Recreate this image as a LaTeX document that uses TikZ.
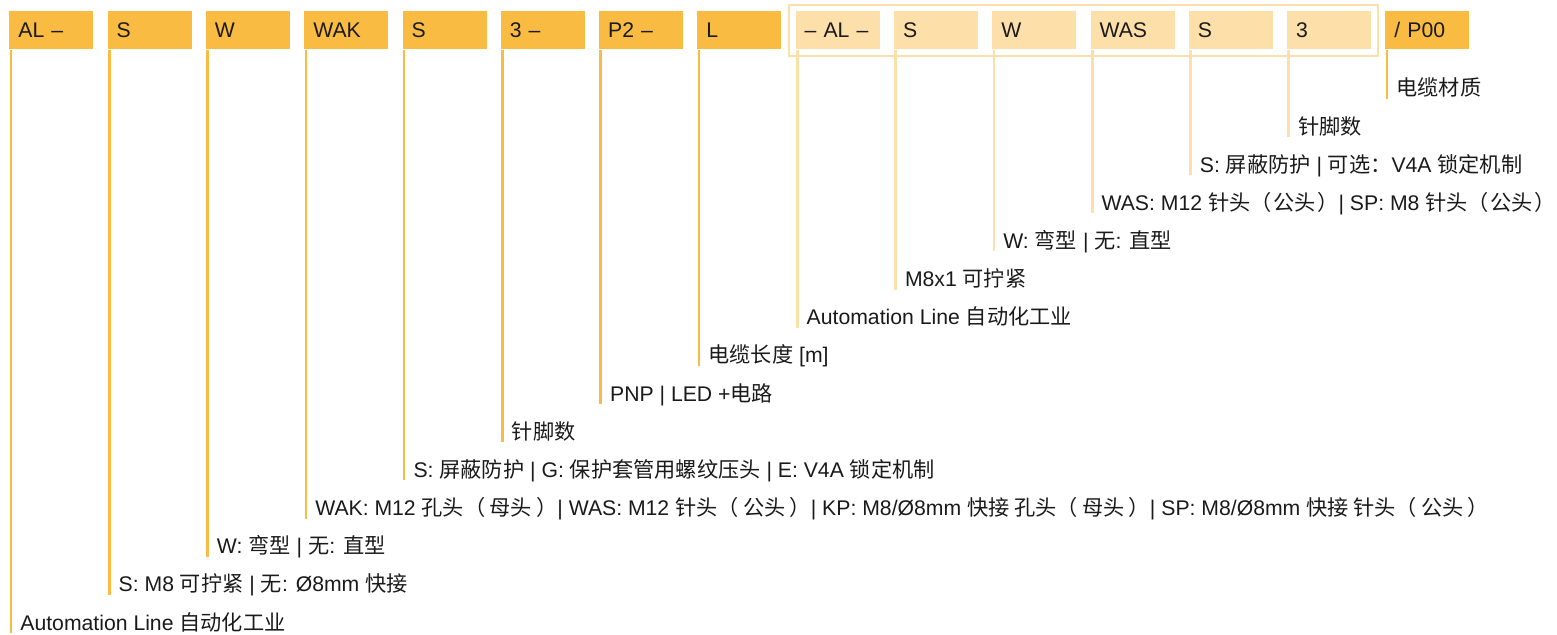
\documentclass[tikz,border=0pt]{standalone}
\usepackage{fontspec}
\setmainfont{Liberation Sans}
\newfontfamily\cjk{Noto Sans CJK SC}
\usetikzlibrary{fit}
\usetikzlibrary{positioning}

\definecolor{codeorange}{HTML}{F9BB42}
\definecolor{codelight}{HTML}{FDDFA9}
\definecolor{codetext}{HTML}{1A1A1A}

\newcommand{\zh}[1]{{\cjk #1}}
\newcommand{\gap}{\hspace{0.2em}}
\newcommand{\smallgap}{\hspace{0.08em}}

\begin{document}
\begin{tikzpicture}[x=0.5pt,y=-0.5pt,
  every node/.style={inner sep=0pt, text=codetext, font=\fontsize{10.6}{12}\selectfont},
  codebox/.style={fill=#1, anchor=north west, minimum height=19pt,
    text width=33pt, inner xsep=4.5pt, align=left, text height=7.6pt, text depth=0pt},
  legend/.style={anchor=base west},
  cable/.style={draw=#1, line width=1.3pt}]

  \useasboundingbox (0,0) rectangle (1557,635);

  % code boxes
  \foreach \code [count=\n from 0] in {AL –, S, W, WAK, S, 3 –, P2 –, L}
    \node[codebox=codeorange] (b\n) at ({9+98.29*\n},11) {\code};
  \foreach \code [count=\n from 8] in {– AL –, S, W, WAS, S, 3}
    \node[codebox=codelight] (b\n) at ({9+98.29*\n},11) {\code};
  \node[codebox=codeorange] (b14) at ({9+98.29*14},11) {/ P00};

  \node[fit=(b8)(b13), draw=codelight, line width=1pt, inner sep=3.2pt] (conn) {};

  % legend texts
  \node[legend] (l0) at (20,630) {Automation Line \zh{自动化工业}};
  \node[legend] (l1) at ({20+98.29*1},{630-38.15*1}) {S: M8 \zh{可拧紧} | \zh{无}: Ø8mm \zh{快接}};
  \node[legend] (l2) at ({20+98.29*2},{630-38.15*2}) {W: \zh{弯型} | \zh{无}: \zh{直型}};
  \node[legend] (l3) at ({20+98.29*3},{630-38.15*3}) {WAK: M12 \zh{孔头（\gap 母头\gap ）}| WAS: M12 \zh{针头（\gap 公头\gap ）}| KP: M8/Ø8mm \zh{快接 孔头（\gap 母头\gap ）}| SP: M8/Ø8mm \zh{快接 针头（\gap 公头\gap ）}};
  \node[legend] (l4) at ({20+98.29*4},{630-38.15*4}) {S: \zh{屏蔽防护} | G: \zh{保护套管用螺纹压头} | E: V4A \zh{锁定机制}};
  \node[legend] (l5) at ({20+98.29*5},{630-38.15*5}) {\zh{针脚数}};
  \node[legend] (l6) at ({20+98.29*6},{630-38.15*6}) {PNP | LED +\zh{电路}};
  \node[legend] (l7) at ({20+98.29*7},{630-38.15*7}) {\zh{电缆长度} [m]};
  \node[legend] (l8) at ({20+98.29*8},{630-38.15*8}) {Automation Line \zh{自动化工业}};
  \node[legend] (l9) at ({20+98.29*9},{630-38.15*9}) {M8x1 \zh{可拧紧}};
  \node[legend] (l10) at ({20+98.29*10},{630-38.15*10}) {W: \zh{弯型} | \zh{无}: \zh{直型}};
  \node[legend] (l11) at ({20+98.29*11},{630-38.15*11}) {WAS: M12 \zh{针头（\smallgap 公头\smallgap ）}| SP: M8 \zh{针头（\smallgap 公头\smallgap ）}};
  \node[legend] (l12) at ({20+98.29*12},{630-38.15*12}) {S: \zh{屏蔽防护} | \zh{可选：}V4A \zh{锁定机制}};
  \node[legend] (l13) at ({20+98.29*13},{630-38.15*13}) {\zh{针脚数}};
  \node[legend] (l14) at ({20+98.29*14},{630-38.15*14}) {\zh{电缆材质}};

  % lines from the boxes down to their texts
  \foreach \n in {0,...,7,14}
    \draw[cable=codeorange] ([xshift=1pt]b\n.south west) -- ([xshift=1pt,yshift=-1.5pt]b\n.south west |- l\n.base west);
  \foreach \n in {8,...,13}
    \draw[cable=codelight] ([xshift=1pt]b\n.south west) -- ([xshift=1pt,yshift=-1.5pt]b\n.south west |- l\n.base west);

\end{tikzpicture}
\end{document}
